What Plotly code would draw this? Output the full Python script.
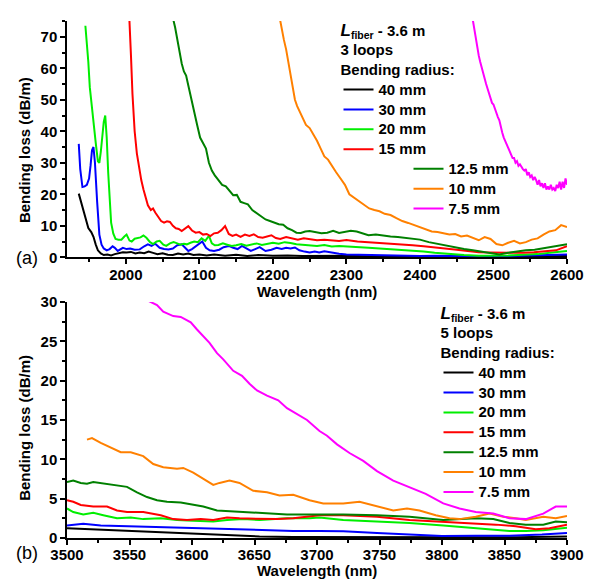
import plotly.graph_objects as go

# ---------------- (a) 3 loops, 1.9-2.6 um ----------------
a_names = ["40 mm", "30 mm", "20 mm", "15 mm", "12.5 mm", "10 mm", "7.5 mm"]
colors = ["#000000", "#0000ff", "#00ee00", "#ff0000", "#008000", "#ff8000", "#ff00ff"]

a40_x = [1936,1939,1942,1945,1949,1953,1956,1959,1962,1966,1970,1975,1980,1985,1990,1996,2001,2007,2013,2019,2025,2031,2037,2043,2050,2057,2064,2071,2078,2085,2092,2100,2110,2120,2135,2150,2165,2180,2200,2220,2240,2260,2280,2300,2330,2360,2390,2420,2450,2480,2510,2540,2570,2600]
a40_y = [20.2,17.5,15.0,12.5,9.3,8.0,6.5,4.1,2.2,1.2,0.7,0.9,0.6,1.0,1.2,1.6,1.5,1.7,1.2,1.5,1.3,1.8,1.4,1.0,1.3,0.8,0.7,1.2,0.9,1.2,0.7,0.9,0.6,0.9,0.5,0.8,0.4,0.7,0.5,0.6,0.4,0.5,0.4,0.5,0.3,0.4,0.3,0.3,0.2,0.3,0.2,0.3,0.3,0.4]

a30_x = [1936,1938,1941,1944,1947,1950,1952,1954,1956,1958,1961,1964,1967,1970,1974,1978,1982,1985,1989,1992,1996,2001,2006,2012,2019,2025,2030,2035,2040,2046,2052,2058,2064,2070,2076,2080,2085,2090,2095,2100,2104,2109,2114,2120,2127,2133,2140,2146,2152,2158,2164,2170,2176,2182,2190,2198,2205,2212,2218,2224,2230,2236,2243,2250,2257,2263,2270,2280,2290,2300,2320,2340,2360,2380,2400,2420,2440,2460,2480,2500,2520,2540,2560,2580,2600]
a30_y = [36.0,28.0,22.3,22.5,23.0,25.0,29.0,34.0,35.0,30.0,17.6,7.2,4.0,2.8,2.2,2.6,3.5,3.0,2.0,2.4,3.0,2.6,2.8,2.4,2.5,3.5,4.1,3.6,4.3,3.0,2.6,2.5,2.8,3.8,4.1,3.2,2.0,2.6,3.5,4.1,5.0,3.0,2.2,2.0,2.4,3.2,3.6,3.0,2.6,3.6,2.8,2.0,2.6,3.2,2.0,2.4,3.0,2.6,3.0,2.8,3.1,2.2,1.8,1.5,1.8,1.5,1.9,1.4,1.1,0.9,0.8,0.6,0.5,0.5,0.4,0.5,0.4,0.3,0.4,0.3,0.4,0.5,0.6,0.7,0.9]

a20_x = [1945,1947,1949,1951,1953,1956,1959,1962,1964,1966,1968,1970,1972,1974,1976,1978,1980,1983,1986,1990,1994,1998,2001,2005,2008,2012,2016,2020,2024,2028,2033,2037,2042,2046,2051,2055,2060,2065,2069,2074,2079,2083,2088,2093,2098,2103,2108,2113,2117,2121,2126,2132,2138,2144,2150,2157,2164,2171,2178,2185,2192,2200,2208,2216,2224,2232,2240,2250,2260,2270,2280,2290,2300,2315,2330,2345,2360,2375,2390,2405,2420,2440,2460,2480,2500,2520,2540,2560,2580,2600]
a20_y = [73.5,68.0,62.0,54.0,49.0,43.0,36.5,30.5,30.0,33.5,38.5,43.0,45.0,38.0,27.0,17.6,11.0,7.5,5.8,5.6,5.6,6.6,7.2,5.3,5.0,5.9,6.1,6.3,6.9,6.2,4.8,4.2,5.0,5.2,4.0,3.6,4.4,4.8,4.5,4.0,4.3,4.1,4.6,5.0,4.8,6.0,5.2,6.8,4.4,3.8,3.9,4.4,4.0,3.6,3.8,4.2,3.7,4.0,4.4,3.9,4.2,4.6,4.3,4.8,4.5,4.1,4.0,3.8,3.6,3.9,3.4,3.6,3.5,3.2,3.0,2.8,2.6,2.4,2.1,1.8,1.4,1.0,0.7,0.5,0.5,0.6,0.8,1.0,1.5,2.0]

a15_x = [2004,2005.5,2007,2009,2012,2015,2018,2021,2024,2027,2030,2034,2037,2040,2044,2048,2052,2056,2060,2064,2068,2072,2076,2080,2085,2090,2095,2100,2105,2110,2115,2120,2125,2130,2135,2140,2145,2150,2156,2162,2168,2174,2180,2186,2192,2198,2204,2210,2218,2226,2234,2242,2250,2260,2270,2280,2290,2300,2315,2330,2345,2360,2375,2390,2405,2420,2435,2450,2465,2480,2495,2510,2525,2540,2555,2570,2585,2600]
a15_y = [80,74,64,52,40,33,28,24.5,21.5,18.5,16.5,15.0,15.5,14.2,12.8,11.5,11.0,11.4,11.2,10.0,9.2,9.0,8.3,9.0,9.9,8.5,7.8,8.0,7.2,7.4,6.7,7.6,7.8,8.6,9.9,7.4,6.8,7.2,6.5,7.2,6.8,7.3,6.4,6.2,6.6,7.0,6.1,5.8,6.4,6.0,5.6,6.0,5.8,5.4,5.6,5.3,5.2,5.5,5.0,4.8,4.6,4.4,4.2,3.8,3.5,3.2,2.8,2.4,2.0,1.6,1.5,1.4,1.5,1.4,1.6,1.8,2.2,3.5]

a125_x = [2062,2064,2067,2070,2073,2076,2079,2082,2085,2089,2093,2097,2101,2105,2109,2113,2117,2121,2126,2131,2136,2141,2146,2151,2156,2161,2166,2172,2178,2184,2190,2196,2202,2208,2214,2220,2226,2232,2238,2244,2250,2258,2266,2274,2282,2290,2298,2306,2314,2322,2330,2340,2350,2360,2370,2380,2390,2400,2412,2424,2436,2448,2460,2472,2484,2496,2508,2520,2532,2544,2556,2568,2580,2590,2600]
a125_y = [80,76,73,69,65.5,61.5,59,57.7,54.5,50,46,42,38,36.3,34.5,30,27.5,26,24.5,23,22.5,21,19.7,19.8,17.6,17.2,16.8,15,14,13,12,11.5,11,10.5,10.3,9.2,8.6,7.8,7.7,8.2,8.3,8.0,7.6,7.8,8.4,7.7,8.0,8.4,8.2,7.6,7.0,7.2,6.8,6.6,6.4,6.1,5.8,5.6,4.8,4.2,3.6,3.2,2.6,2.2,1.8,1.2,0.9,1.4,1.9,2.2,2.4,2.9,3.4,3.8,4.1]

a10_x = [2206,2209,2212,2215,2218,2221,2224,2227,2230,2233,2237,2241,2245,2250,2255,2260,2265,2270,2275,2280,2286,2292,2298,2304,2310,2317,2324,2331,2338,2345,2352,2360,2368,2376,2384,2392,2400,2408,2416,2424,2432,2440,2448,2456,2464,2472,2480,2488,2496,2504,2512,2520,2528,2536,2544,2552,2560,2568,2576,2584,2592,2600]
a10_y = [80,76,72,69,66,62,57,53,50,48,46,44,42,41,39,37,34.5,32,31,29,27,25,23,20,19,17.6,16.5,15.5,15,14.6,13.8,13.4,12.4,11.5,10.9,10.2,9.4,8.7,8.2,8.0,7.6,7.2,7.4,6.6,6.9,6.2,5.4,6.4,5.8,4.2,3.8,4.6,5.2,4.4,4.8,5.6,6.0,7.2,8.2,8.6,10.2,9.6]

a75_x = [2470,2472,2474,2476,2478,2480,2482,2484,2486,2488,2490,2492,2494,2496,2498,2500,2502,2504,2506,2508,2510,2512,2514,2516,2518,2520,2522,2524,2526,2528,2530,2532,2534,2536,2538,2540,2542,2544,2546,2548,2550,2552,2554,2556,2558,2560,2562,2564,2566,2568,2570,2572,2574,2576,2578,2580,2582,2584,2586,2588,2590,2592,2594,2596,2598,2600]
a75_y = [78,75,72,69,66.5,64,62,60,58,57,55,53.5,52,51,49,48.5,47,45.5,44.5,43.5,41,39.5,38,37,35.5,35,33.5,33,31.5,31.5,30,30.5,29,29.5,28.5,28,27.5,28,26,27,25.5,26,24.5,25.5,24.5,23,24.5,22.5,23.5,22,23.5,21.5,22.5,21.5,23,21.5,22,21,23,22,24,21.5,24,22,25,23]

# ---------------- (b) 5 loops, 3.5-3.9 um ----------------
b40_x = [3500,3521,3548,3575,3601,3628,3654,3681,3710,3740,3770,3800,3830,3860,3880,3900]
b40_y = [1.25,1.1,1.0,0.75,0.55,0.4,0.2,0.12,0.1,0.1,0.1,0.08,0.1,0.1,0.15,0.2]

b30_x = [3500,3513,3527,3548,3575,3601,3628,3654,3681,3702,3721,3748,3774,3800,3827,3854,3880,3900]
b30_y = [1.6,1.8,1.6,1.5,1.4,1.25,1.1,1.0,0.9,0.9,0.85,0.65,0.45,0.25,0.3,0.3,0.45,0.65]

b20_x = [3500,3505,3513,3521,3529,3540,3551,3561,3575,3588,3601,3617,3628,3641,3654,3676,3694,3702,3721,3748,3774,3801,3827,3854,3867,3881,3900]
b20_y = [3.75,3.3,3.0,3.2,2.9,2.5,2.6,2.4,2.5,2.3,2.2,2.1,2.3,2.4,2.3,2.5,2.5,2.6,2.3,2.1,1.9,1.6,1.3,0.9,0.9,1.0,1.3]

b15_x = [3500,3505,3511,3521,3532,3540,3548,3561,3575,3585,3596,3607,3617,3628,3638,3654,3668,3681,3694,3702,3721,3748,3774,3801,3827,3843,3859,3875,3886,3900]
b15_y = [4.8,4.6,4.2,4.0,4.0,3.5,3.3,3.3,2.9,2.4,2.3,2.4,2.3,2.6,2.5,2.4,2.4,2.5,2.7,2.9,2.9,2.7,2.3,2.1,1.9,1.7,1.5,1.1,1.25,1.7]

b125_x = [3500,3505,3511,3516,3521,3529,3537,3548,3556,3564,3572,3580,3591,3601,3609,3620,3633,3646,3660,3676,3694,3721,3748,3774,3801,3814,3827,3841,3854,3867,3881,3891,3900]
b125_y = [7.1,7.3,7.0,6.9,7.1,6.9,6.75,6.5,5.8,5.2,4.8,4.6,4.5,4.2,4.0,3.5,3.4,3.3,3.1,3.0,3.0,3.0,2.9,2.7,2.3,2.4,2.5,2.4,1.9,1.7,1.7,2.1,2.0]

b10_x = [3516,3520,3527,3535,3543,3551,3561,3569,3577,3588,3593,3601,3609,3617,3622,3630,3638,3649,3660,3670,3681,3694,3705,3721,3734,3748,3761,3772,3782,3795,3806,3814,3827,3838,3849,3859,3867,3881,3891,3900]
b10_y = [12.5,12.7,12.1,11.5,10.9,10.9,10.4,9.4,9.0,8.8,8.9,8.3,7.5,6.75,7.0,7.3,7.0,6.0,5.8,5.4,5.5,4.8,4.4,4.4,4.6,4.0,3.5,3.75,3.5,2.9,2.5,2.4,2.7,3.1,2.7,2.5,2.3,2.7,2.5,2.8]

b75_x = [3563,3572,3577,3585,3591,3599,3604,3609,3614,3620,3625,3633,3640,3646,3652,3660,3669,3676,3684,3692,3702,3708,3716,3726,3737,3748,3761,3774,3787,3801,3814,3827,3841,3854,3867,3881,3891,3900]
b75_y = [30.3,29.6,28.75,28.2,28.1,27.4,26.5,25.7,24.8,23.5,22.7,21.25,20.6,19.6,18.75,18.1,17.5,16.5,15.8,15.0,13.6,13.0,11.9,10.8,9.8,8.5,7.3,6.45,5.6,4.4,3.75,3.3,3.1,2.5,2.4,3.1,4.0,4.0]

a_series = [(a40_x, a40_y), (a30_x, a30_y), (a20_x, a20_y), (a15_x, a15_y),
            (a125_x, a125_y), (a10_x, a10_y), (a75_x, a75_y)]
b_series = [(b40_x, b40_y), (b30_x, b30_y), (b20_x, b20_y), (b15_x, b15_y),
            (b125_x, b125_y), (b10_x, b10_y), (b75_x, b75_y)]

FONT = "Liberation Sans, Arial, sans-serif"


def big(label):
    # legend entry text drawn at 15 px while legend rows use a 13 px pitch
    return "<span style='font-size:15px'>" + label + "</span>"


fig = go.Figure()

for i, (xs, ys) in enumerate(a_series):
    fig.add_trace(go.Scatter(
        x=xs, y=ys, mode="lines", name=big(a_names[i]),
        line=dict(color=colors[i], width=2),
        xaxis="x", yaxis="y",
        legend="legend" if i < 4 else "legend2"))

for i, (xs, ys) in enumerate(b_series):
    fig.add_trace(go.Scatter(
        x=xs, y=ys, mode="lines", name=big(a_names[i]),
        line=dict(color=colors[i], width=2),
        xaxis="x2", yaxis="y2", legend="legend3"))

axis_common = dict(showline=True, linecolor="black", linewidth=1.5,
                   ticks="outside", ticklen=5, tickwidth=1.5, tickcolor="black",
                   showgrid=False, zeroline=False, mirror=False,
                   tickfont=dict(size=15, family=FONT, color="black", weight="bold"))
minor_common = dict(ticklen=3, tickwidth=1.5, ticks="outside", tickcolor="black")

leg_font = dict(size=13, family=FONT, color="black", weight="bold")
title_font = dict(size=15, family=FONT, color="black", weight="bold")
lfiber = "<i><span style='font-size:17px'>L</span></i><sub>fiber</sub> - 3.6 m"

fig.update_layout(
    width=596, height=579,
    margin=dict(l=67, r=28, t=13, b=41),
    paper_bgcolor="white", plot_bgcolor="white",
    font=dict(family=FONT, size=15, color="black", weight="bold"),
    xaxis=dict(domain=[0, 1], anchor="y", range=[1920, 2600], dtick=100, tick0=2000,
               minor=dict(dtick=50, **minor_common), ticklabelstandoff=-2, **axis_common),
    yaxis=dict(domain=[0.543, 1], anchor="x", range=[0, 75], dtick=10, tick0=0,
               minor=dict(dtick=5, **minor_common), **axis_common),
    xaxis2=dict(domain=[0, 1], anchor="y2", range=[3500, 3900], dtick=50, tick0=3500,
                minor=dict(dtick=25, **minor_common), ticklabelstandoff=-3, **axis_common),
    yaxis2=dict(domain=[0, 0.4566], anchor="x2", range=[0, 30], dtick=5, tick0=0,
                minor=dict(dtick=2.5, **minor_common), **axis_common),
    legend=dict(x=0.543, xanchor="left", y=1.0095, yanchor="top",
                bgcolor="rgba(0,0,0,0)", borderwidth=0, font=leg_font,
                title=dict(text=lfiber + "<br>3 loops<br>Bending radius:", font=title_font)),
    legend2=dict(x=0.683, xanchor="left", y=0.743, yanchor="top",
                 bgcolor="rgba(0,0,0,0)", borderwidth=0, font=leg_font),
    legend3=dict(x=0.743, xanchor="left", y=0.462, yanchor="top",
                 bgcolor="rgba(0,0,0,0)", borderwidth=0, font=leg_font,
                 title=dict(text=lfiber + "<br>5 loops<br>Bending radius:", font=title_font)),
    annotations=[
        dict(text="Wavelength (nm)", xref="paper", yref="paper", x=0.499, y=0.477,
             xanchor="center", yanchor="middle", showarrow=False,
             font=dict(size=15, family=FONT, color="black", weight="bold")),
        dict(text="Wavelength (nm)", xref="paper", yref="paper", x=0.499, y=-0.063,
             xanchor="center", yanchor="middle", showarrow=False,
             font=dict(size=15, family=FONT, color="black", weight="bold")),
        dict(text="Bending loss (dB/m)", xref="paper", yref="paper", x=-0.0838, y=0.7505,
             xanchor="center", yanchor="middle", textangle=-90, showarrow=False,
             font=dict(size=15, family=FONT, color="black", weight="bold")),
        dict(text="Bending loss (dB/m)", xref="paper", yref="paper", x=-0.0838, y=0.2133,
             xanchor="center", yanchor="middle", textangle=-90, showarrow=False,
             font=dict(size=15, family=FONT, color="black", weight="bold")),
        dict(text="(a)", xref="paper", yref="paper", x=-0.0798, y=0.541,
             xanchor="center", yanchor="middle", showarrow=False,
             font=dict(size=18, family=FONT, color="black", weight="normal")),
        dict(text="(b)", xref="paper", yref="paper", x=-0.0798, y=-0.0286,
             xanchor="center", yanchor="middle", showarrow=False,
             font=dict(size=18, family=FONT, color="black", weight="normal")),
    ],
)

fig.write_html("out.html", config={"displayModeBar": False},
               post_script="document.body.style.margin='0';")
